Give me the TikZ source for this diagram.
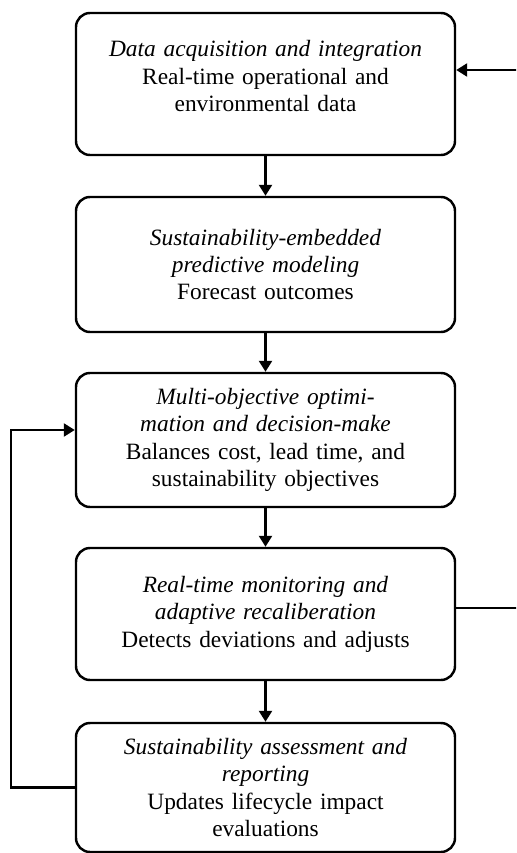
\documentclass[tikz,border=0pt]{standalone}
\usepackage{fontspec}
\setmainfont{Liberation Serif}
\usetikzlibrary{arrows.meta}
\usetikzlibrary{positioning}

\begin{document}
\begin{tikzpicture}[every node/.style={font=\fontsize{13.3}{15.6}\selectfont},
    stagebox/.style={draw, rounded corners=8pt, line width=1.4pt, text width=7.3cm,
        minimum width=7.58cm, align=center, inner sep=0pt},
    flow/.style={line width=1.4pt, -{Triangle[length=0.22cm, width=0.26cm]}}]
    \useasboundingbox (0,0) rectangle (10.32,-17.06);
    \clip (0,0) rectangle (10.32,-17.06);
    % stages
    \node[stagebox, minimum height=2.84cm] (acq) at (5.31,-1.68)
        {\textit{Data acquisition and integration}\\ Real-time operational and\\ environmental data\rule[-9pt]{0pt}{1pt}};
    \node[stagebox, minimum height=2.70cm] (pred) at (5.31,-5.29)
        {\textit{Sustainability-embedded}\\ \textit{predictive modeling}\\ Forecast outcomes};
    \node[stagebox, minimum height=2.68cm] (opt) at (5.31,-8.80)
        {\textit{Multi-objective optimi-}\\ \textit{mation and decision-make}\\ Balances cost, lead time, and\\ sustainability objectives};
    \node[stagebox, minimum height=2.64cm] (mon) at (5.31,-12.28)
        {\textit{Real-time monitoring and}\\ \textit{adaptive recaliberation}\\ Detects deviations and adjusts};
    \node[stagebox, minimum height=2.58cm] (assess) at (5.31,-15.75)
        {\textit{Sustainability assessment and}\\ \textit{reporting}\\ Updates lifecycle impact\\ evaluations};
    % main flow
    \draw[flow] (acq) -- (pred);
    \draw[flow] (pred) -- (opt);
    \draw[flow] (opt) -- (mon);
    \draw[flow] (mon) -- (assess);
    % feedback loops
    \draw[flow] (assess.west) -| (0.22,-8.60) -- ([yshift=0.2cm]opt.west);
    \draw[flow] ([yshift=0.12cm]mon.east) -- (10.6,-12.16) |- ([yshift=0.28cm]acq.east);
\end{tikzpicture}
\end{document}
